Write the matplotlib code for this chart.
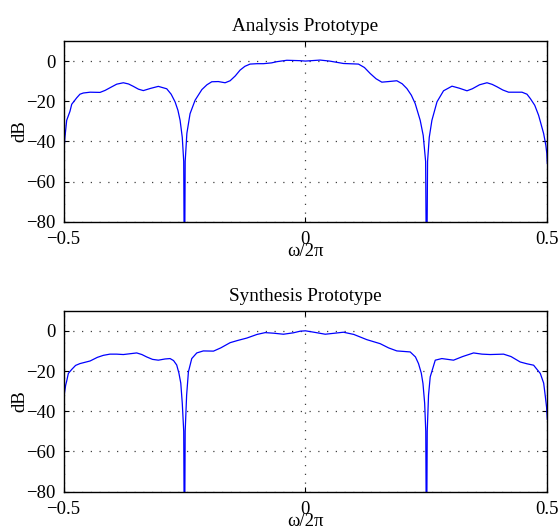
import matplotlib
matplotlib.use("Agg")
import matplotlib.pyplot as plt

# frequency response (omega/2pi, dB)
ana_f = [-0.5, -0.499, -0.497, -0.4934, -0.4866, -0.483, -0.4727, -0.466, -0.459, -0.445,
         -0.4245, -0.414, -0.404, -0.39, -0.3763, -0.3656, -0.3556, -0.345, -0.335,
         -0.32, -0.304, -0.2866, -0.2775, -0.2694, -0.2635, -0.259, -0.2545, -0.2515,
         -0.25, -0.2485, -0.245, -0.2384, -0.228, -0.214, -0.2035, -0.1935, -0.18,
         -0.166, -0.1556, -0.145, -0.135, -0.125, -0.1144, -0.1, -0.0868, -0.07, -0.059,
         -0.0384, -0.011, 0.0, 0.0305, 0.05, 0.0787, 0.1097, 0.122, 0.134, 0.146,
         0.158, 0.172, 0.189, 0.2, 0.2098, 0.219, 0.227, 0.2373, 0.2435, 0.2485,
         0.2505, 0.2525, 0.256, 0.2615, 0.272, 0.2855, 0.303, 0.318, 0.334, 0.345,
         0.36, 0.3753, 0.386, 0.396, 0.408, 0.42, 0.4477, 0.458, 0.465, 0.474,
         0.482, 0.4924, 0.497, 0.499, 0.5]
ana_db = [-51, -44, -37.8, -29.5, -25, -21.5, -18.3, -16.5, -15.9, -15.5,
          -15.6, -14.6, -13.3, -11.5, -10.8, -11.4, -12.6, -14.0, -14.7,
          -13.6, -12.6, -13.8, -16.5, -20.3, -24.5, -29.5, -38, -50,
          -120, -50, -36, -26.2, -19.5, -14.2, -11.8, -10.3, -10.2,
          -10.8, -9.8, -7.4, -4.5, -2.6, -1.5, -1.3, -1.3, -0.9, -0.3,
          0.4, 0.2, 0.0, 0.5, 0.0, -1.2, -1.5, -3.2, -6.2, -8.8,
          -10.5, -10.2, -9.8, -11.3, -13.7, -17, -21.2, -29.5, -37, -50,
          -120, -50, -38, -29.5, -20.3, -14.8, -12.5, -13.5, -14.8, -13.8,
          -11.8, -10.8, -11.6, -12.8, -14.4, -15.5, -15.5, -16.5, -18.7, -22,
          -27, -36, -42, -46, -51]

syn_f = [-0.5, -0.4995, -0.498, -0.4955, -0.4934, -0.49, -0.483, -0.475, -0.466, -0.445,
         -0.43, -0.4177, -0.404, -0.39, -0.3763, -0.3487, -0.338, -0.328, -0.316,
         -0.304, -0.29, -0.2797, -0.2725, -0.266, -0.2615, -0.2576, -0.2545, -0.2515,
         -0.25, -0.2485, -0.2455, -0.2418, -0.2349, -0.2245, -0.211, -0.19, -0.175,
         -0.1556, -0.14, -0.121, -0.1, -0.0832, -0.065, -0.0454, -0.025, -0.011,
         0.0, 0.02, 0.041, 0.06, 0.0787, 0.1, 0.127, 0.1546, 0.172, 0.189,
         0.2166, 0.2275, 0.2338, 0.2395, 0.243, 0.2465, 0.2488, 0.2503, 0.2518,
         0.2545, 0.258, 0.2684, 0.282, 0.294, 0.3062, 0.325, 0.3476, 0.365,
         0.382, 0.4096, 0.425, 0.444, 0.458, 0.4717, 0.4855, 0.4925, 0.496,
         0.4985, 0.5]
syn_db = [-40.7, -37.8, -31, -27, -25, -21.2, -19.2, -17.2, -16.3, -15,
          -13.2, -12.2, -11.6, -11.6, -11.8, -11.0, -11.8, -13, -14.2,
          -14.6, -14.0, -13.8, -14.8, -17, -21, -26, -36, -50,
          -120, -50, -32, -20.4, -13.8, -11, -10, -10.1, -8.5,
          -5.9, -4.8, -3.6, -1.8, -0.9, -1.2, -1.7, -1.0, -0.2,
          0.0, -0.8, -1.7, -1.2, -0.7, -1.8, -4.4, -6.4, -8.5, -10,
          -10.5, -13, -16.3, -21, -26.2, -36, -50, -120, -50,
          -32, -22.9, -14.6, -13.8, -14.2, -14.6, -12.8, -11, -11.6,
          -11.8, -11.6, -12.8, -15.5, -16.4, -17.1, -21.2, -26, -32.8,
          -38, -44]

titles = ["Analysis Prototype", "Synthesis Prototype"]
x_ticks = [-0.5, 0, 0.5]
x_labels = ["\u22120.5", "0", "0.5"]
y_ticks = [-80, -60, -40, -20, 0]
y_labels = ["\u221280", "\u221260", "\u221240", "\u221220", "0"]

plt.rcParams["font.family"] = ["Liberation Serif", "DejaVu Serif"]
plt.rcParams["font.size"] = 13.5

W, H = 559, 530
fig = plt.figure(figsize=(W / 100, H / 100), dpi=100)

boxes = [(63.5, 41, 547.3, 221.7), (63.5, 310.7, 547.3, 491.7)]
series = [(ana_f, ana_db), (syn_f, syn_db)]

for (x0, y0, x1, y1), (f, db), title in zip(boxes, series, titles):
    ax = fig.add_axes([x0 / W, 1 - y1 / H, (x1 - x0) / W, (y1 - y0) / H])
    ax.plot(f, db, color="blue", linewidth=0.9, solid_joinstyle="round")
    ax.set_xlim(-0.5, 0.5)
    ax.set_ylim(-80, 10)
    ax.set_xticks(x_ticks)
    ax.set_xticklabels(x_labels)
    ax.set_yticks(y_ticks)
    ax.set_yticklabels(y_labels)
    ax.tick_params(direction="in", length=3.5, width=0.8, top=True, right=True,
                   pad=6)
    ax.tick_params(axis="x", pad=6.5)
    ax.grid(True, color="0.25", linestyle=(0, (1, 6)), linewidth=0.9)
    for s in ax.spines.values():
        s.set_linewidth(1.0)
    ax.set_title(title, fontsize=13.8, pad=7)
    ax.set_xlabel("\u03c9/2\u03c0", labelpad=-3.5)
    ax.set_ylabel("dB", labelpad=-2)

fig.savefig("out.png", dpi=100)
